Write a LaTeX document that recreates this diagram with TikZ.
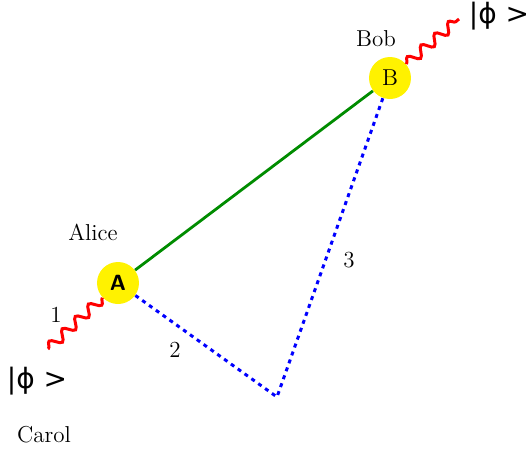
\documentclass[tikz,border=0pt]{standalone}
\usepackage{fontspec}
\newfontfamily\dejavu{DejaVu Sans}
\usetikzlibrary{decorations.pathmorphing}
\begin{document}
\begin{tikzpicture}[x=0.5pt,y=-0.5pt,
  party/.style={circle,fill=yellow,minimum size=21pt,inner sep=0pt},
  lbl/.style={font=\fontsize{11.5}{13}\selectfont},
  ket/.style={font=\dejavu\fontsize{14}{16}\selectfont},
  wave/.style={draw=red,line width=1.5pt,decorate,decoration={snake,amplitude=2.5pt,segment length=9pt}},
  link/.style={draw={rgb,255:red,0;green,140;blue,0},line width=1.4pt},
  dots/.style={draw=blue,line width=1.5pt,dash pattern=on 2pt off 2.2pt}]
\useasboundingbox (0,0) rectangle (527,451);
\node[party,font=\sffamily\bfseries\fontsize{11}{12}\selectfont] (A) at (118,283) {A};
\node[party,font=\fontsize{11.5}{13}\selectfont] (B) at (390,78) {B};
\coordinate (C) at (277,397);
\coordinate (wa) at (48,349);
\coordinate (wb) at (459,19);
\draw[link] (A) -- (B);
\draw[dots] (A) -- (C) -- (B);
\draw[wave] (A) -- (wa);
\draw[wave] (B) -- (wb);
\node[lbl] (alice) at (93,232) {Alice};
\node[lbl] (bob) at (376,39) {Bob};
\node[lbl] (carol) at (44,435) {Carol};
\node[lbl] (n1) at (56,315) {1};
\node[lbl] (n2) at (175,350) {2};
\node[lbl] (n3) at (349,260) {3};
\node[ket] (k1) at (37,381) {|ϕ >};
\node[ket] (k2) at (499,16) {|ϕ >};
\end{tikzpicture}
\end{document}
